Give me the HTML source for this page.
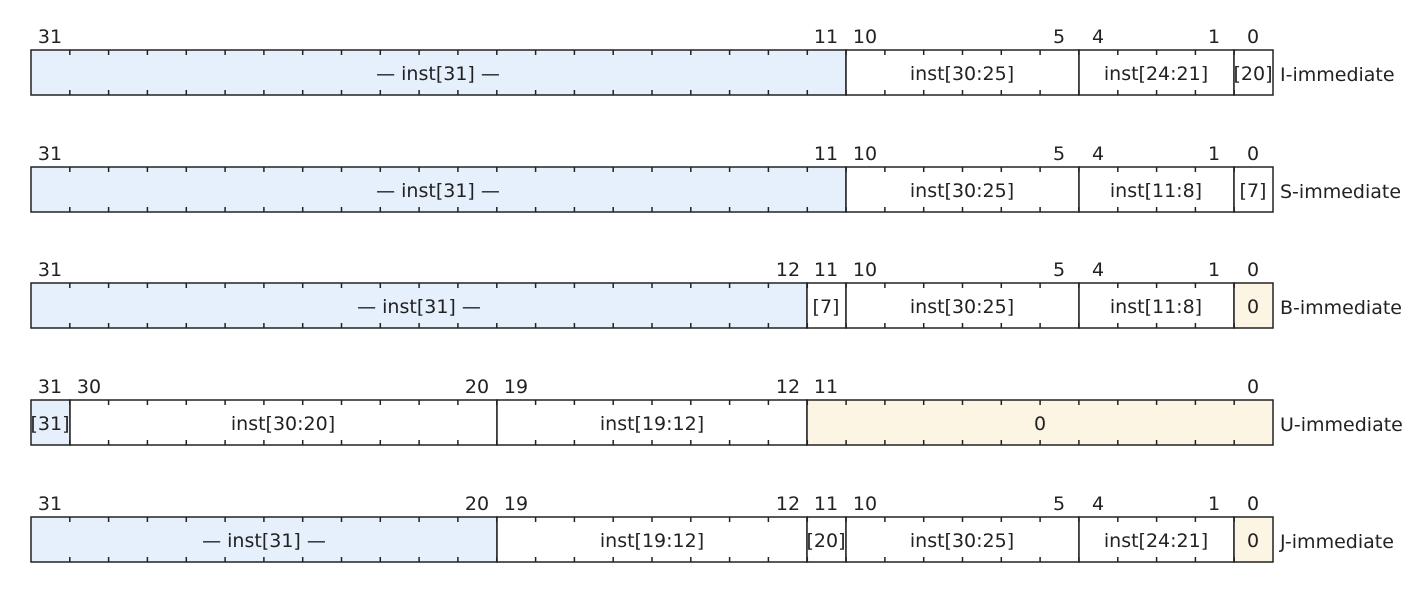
<!DOCTYPE html>
<html><head><meta charset="utf-8"><style>
html,body{margin:0;padding:0;background:#fff;width:1424px;height:608px;overflow:hidden}
svg text{font-family:"DejaVu Sans","Liberation Sans",sans-serif;font-size:19px;fill:#222}
</style></head><body>
<svg id="s" width="1424" height="608" xmlns="http://www.w3.org/2000/svg">
<!-- Row I -->
<g transform="translate(0,50)">
<rect x="31" y="0" width="815" height="45" fill="#e6effc" stroke="#222" stroke-width="1.5"/>
<rect x="846" y="0" width="233" height="45" fill="#fff" stroke="#222" stroke-width="1.5"/>
<rect x="1079" y="0" width="155" height="45" fill="#fff" stroke="#222" stroke-width="1.5"/>
<rect x="1234" y="0" width="39" height="45" fill="#fff" stroke="#222" stroke-width="1.5"/>
<text x="438" y="30" text-anchor="middle">— inst[31] —</text>
<text x="962" y="30" text-anchor="middle">inst[30:25]</text>
<text x="1156" y="30" text-anchor="middle">inst[24:21]</text>
<text x="1253" y="30" text-anchor="middle">[20]</text>
<text x="1280" y="31">I-immediate</text>
<g text-anchor="middle"><text x="50" y="-7">31</text><text x="826" y="-7">11</text><text x="865" y="-7">10</text><text x="1059" y="-7">5</text><text x="1098" y="-7">4</text><text x="1214" y="-7">1</text><text x="1253" y="-7">0</text></g>
</g>
<!-- Row S -->
<g transform="translate(0,167)">
<rect x="31" y="0" width="815" height="45" fill="#e6effc" stroke="#222" stroke-width="1.5"/>
<rect x="846" y="0" width="233" height="45" fill="#fff" stroke="#222" stroke-width="1.5"/>
<rect x="1079" y="0" width="155" height="45" fill="#fff" stroke="#222" stroke-width="1.5"/>
<rect x="1234" y="0" width="39" height="45" fill="#fff" stroke="#222" stroke-width="1.5"/>
<text x="438" y="30" text-anchor="middle">— inst[31] —</text>
<text x="962" y="30" text-anchor="middle">inst[30:25]</text>
<text x="1156" y="30" text-anchor="middle">inst[11:8]</text>
<text x="1253" y="30" text-anchor="middle">[7]</text>
<text x="1280" y="31">S-immediate</text>
<g text-anchor="middle"><text x="50" y="-7">31</text><text x="826" y="-7">11</text><text x="865" y="-7">10</text><text x="1059" y="-7">5</text><text x="1098" y="-7">4</text><text x="1214" y="-7">1</text><text x="1253" y="-7">0</text></g>
</g>
<!-- Row B -->
<g transform="translate(0,283)">
<rect x="31" y="0" width="776" height="45" fill="#e6effc" stroke="#222" stroke-width="1.5"/>
<rect x="807" y="0" width="39" height="45" fill="#fff" stroke="#222" stroke-width="1.5"/>
<rect x="846" y="0" width="233" height="45" fill="#fff" stroke="#222" stroke-width="1.5"/>
<rect x="1079" y="0" width="155" height="45" fill="#fff" stroke="#222" stroke-width="1.5"/>
<rect x="1234" y="0" width="39" height="45" fill="#fdf5e3" stroke="#222" stroke-width="1.5"/>
<text x="419" y="30" text-anchor="middle">— inst[31] —</text>
<text x="826" y="30" text-anchor="middle">[7]</text>
<text x="962" y="30" text-anchor="middle">inst[30:25]</text>
<text x="1156" y="30" text-anchor="middle">inst[11:8]</text>
<text x="1253" y="30" text-anchor="middle">0</text>
<text x="1280" y="31">B-immediate</text>
<g text-anchor="middle"><text x="50" y="-7">31</text><text x="788" y="-7">12</text><text x="826" y="-7">11</text><text x="865" y="-7">10</text><text x="1059" y="-7">5</text><text x="1098" y="-7">4</text><text x="1214" y="-7">1</text><text x="1253" y="-7">0</text></g>
</g>
<!-- Row U -->
<g transform="translate(0,400)">
<rect x="31" y="0" width="39" height="45" fill="#e6effc" stroke="#222" stroke-width="1.5"/>
<rect x="70" y="0" width="427" height="45" fill="#fff" stroke="#222" stroke-width="1.5"/>
<rect x="497" y="0" width="310" height="45" fill="#fff" stroke="#222" stroke-width="1.5"/>
<rect x="807" y="0" width="466" height="45" fill="#fdf5e3" stroke="#222" stroke-width="1.5"/>
<text x="50" y="30" text-anchor="middle">[31]</text>
<text x="283" y="30" text-anchor="middle">inst[30:20]</text>
<text x="652" y="30" text-anchor="middle">inst[19:12]</text>
<text x="1040" y="30" text-anchor="middle">0</text>
<text x="1280" y="31">U-immediate</text>
<g text-anchor="middle"><text x="50" y="-7">31</text><text x="89" y="-7">30</text><text x="477" y="-7">20</text><text x="516" y="-7">19</text><text x="788" y="-7">12</text><text x="826" y="-7">11</text><text x="1253" y="-7">0</text></g>
</g>
<!-- Row J -->
<g transform="translate(0,517)">
<rect x="31" y="0" width="466" height="45" fill="#e6effc" stroke="#222" stroke-width="1.5"/>
<rect x="497" y="0" width="310" height="45" fill="#fff" stroke="#222" stroke-width="1.5"/>
<rect x="807" y="0" width="39" height="45" fill="#fff" stroke="#222" stroke-width="1.5"/>
<rect x="846" y="0" width="233" height="45" fill="#fff" stroke="#222" stroke-width="1.5"/>
<rect x="1079" y="0" width="155" height="45" fill="#fff" stroke="#222" stroke-width="1.5"/>
<rect x="1234" y="0" width="39" height="45" fill="#fdf5e3" stroke="#222" stroke-width="1.5"/>
<text x="264" y="30" text-anchor="middle">— inst[31] —</text>
<text x="652" y="30" text-anchor="middle">inst[19:12]</text>
<text x="826" y="30" text-anchor="middle">[20]</text>
<text x="962" y="30" text-anchor="middle">inst[30:25]</text>
<text x="1156" y="30" text-anchor="middle">inst[24:21]</text>
<text x="1253" y="30" text-anchor="middle">0</text>
<text x="1280" y="31">J-immediate</text>
<g text-anchor="middle"><text x="50" y="-7">31</text><text x="477" y="-7">20</text><text x="516" y="-7">19</text><text x="788" y="-7">12</text><text x="826" y="-7">11</text><text x="865" y="-7">10</text><text x="1059" y="-7">5</text><text x="1098" y="-7">4</text><text x="1214" y="-7">1</text><text x="1253" y="-7">0</text></g>
</g>
</svg>
<script>
(function(){
var w=1242/32, tops=[50,167,283,400,517], d="";
for(var r=0;r<5;r++){var y=tops[r];
 for(var i=1;i<32;i++){var x=(31+i*w).toFixed(1);
  d+="M"+x+" "+y+"v5M"+x+" "+(y+45)+"v-5";}}
var p=document.createElementNS("http://www.w3.org/2000/svg","path");
p.setAttribute("d",d);p.setAttribute("stroke","#222");p.setAttribute("stroke-width","1.5");
document.getElementById("s").appendChild(p);
})();
</script>
</body></html>
